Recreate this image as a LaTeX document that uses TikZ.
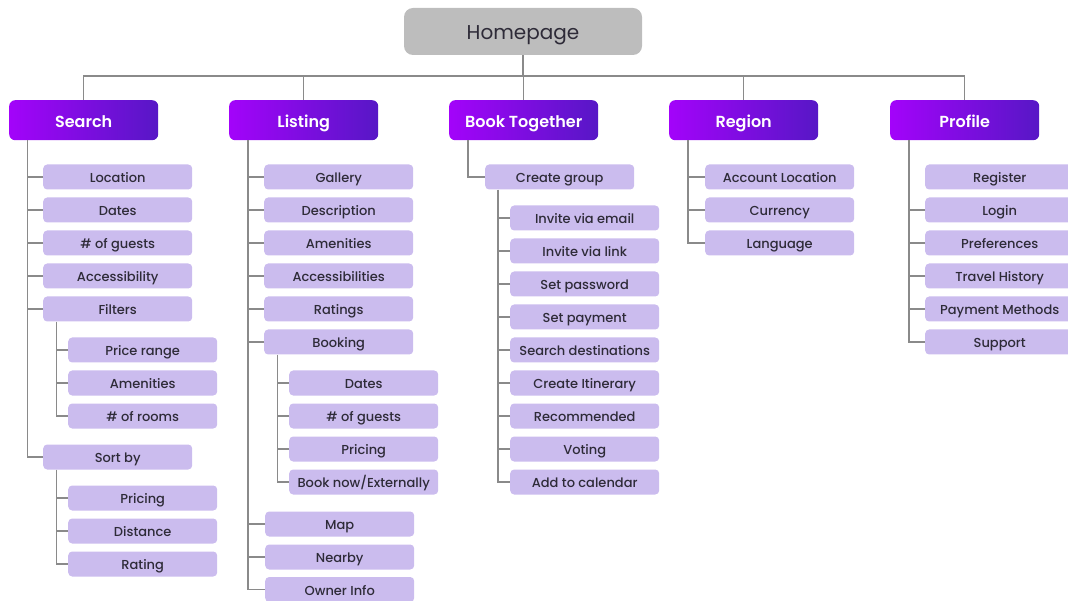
\documentclass[tikz,border=0pt]{standalone}
\usepackage{fontspec}
\setmainfont{Poppins}
\IfFontExistsTF{Poppins Medium}{\newfontfamily\pmed{Poppins Medium}}{\newfontfamily\pmed{Poppins}}
\IfFontExistsTF{Poppins SemiBold}{\newfontfamily\psemi{Poppins SemiBold}}{\newfontfamily\psemi{Poppins}[UprightFont=*-Bold]}
\definecolor{leafc}{HTML}{CBBCEE}
\definecolor{hl}{HTML}{A303FA}
\definecolor{hr}{HTML}{5717C6}
\definecolor{linec}{HTML}{8A8A8A}
\definecolor{txt}{HTML}{2E2B38}
\definecolor{homec}{HTML}{BDBDBD}
\begin{document}
\begin{tikzpicture}[x=1pt,y=-1pt,
  leaf/.style={fill=leafc, rounded corners=4pt, minimum width=149pt, minimum height=25pt, inner sep=0pt, text height=11pt, text depth=0pt, font=\pmed\fontsize{13}{13}\selectfont, text=txt, anchor=west},
  head/.style={left color=hl, right color=hr, rounded corners=6pt, minimum width=149pt, minimum height=40pt, inner sep=0pt, text height=14pt, text depth=0pt, font=\psemi\fontsize{16}{16}\selectfont, text=white, anchor=north west},
  homebox/.style={fill=homec, rounded corners=9pt, minimum width=238pt, minimum height=47pt, inner sep=0pt, text height=18pt, text depth=2pt, font=\fontsize{20}{20}\selectfont, text=txt},
  conn/.style={draw=linec, line width=1.3pt}]
\useasboundingbox (0,0) rectangle (1068,601);
\clip (0,0) rectangle (1068,601);

% homepage and headers
\node[homebox] (home) at (523,31.5) {Homepage};
\node[head] (search) at (9,100) {Search};
\node[head] (listing) at (229,100) {Listing};
\node[head] (book) at (449,100) {Book Together};
\node[head] (region) at (669,100) {Region};
\node[head] (profile) at (890,100) {Profile};

\coordinate (bus) at (523,76);
\draw[conn] (home.south) -- (bus);
\draw[conn] (search.north) -- (search.north |- bus) -- (profile.north |- bus) -- (profile.north);
\foreach \h in {listing,book,region} \draw[conn] (\h.north) -- (\h.north |- bus);

% Search
\node[leaf] (s1) at (43,177) {Location};
\node[leaf] (s2) at (43,210) {Dates};
\node[leaf] (s3) at (43,243) {\# of guests};
\node[leaf] (s4) at (43,276) {Accessibility};
\node[leaf] (s5) at (43,309) {Filters};
\node[leaf] (f1) at (68,350) {Price range};
\node[leaf] (f2) at (68,383) {Amenities};
\node[leaf] (f3) at (68,416) {\# of rooms};
\node[leaf] (s6) at (43,457) {Sort by};
\node[leaf] (o1) at (68,498) {Pricing};
\node[leaf] (o2) at (68,531) {Distance};
\node[leaf] (o3) at (68,564) {Rating};

\draw[conn] ([xshift=18.5pt]search.south west) coordinate (sv) |- (s6.west);
\foreach \n in {s1,s2,s3,s4,s5} \draw[conn] (\n.west) -- (\n.west -| sv);
\draw[conn] ([xshift=13.5pt]s5.south west) coordinate (fv) |- (f3.west);
\foreach \n in {f1,f2} \draw[conn] (\n.west) -- (\n.west -| fv);
\draw[conn] ([xshift=13.5pt]s6.south west) coordinate (ov) |- (o3.west);
\foreach \n in {o1,o2} \draw[conn] (\n.west) -- (\n.west -| ov);

% Listing
\node[leaf] (l1) at (264,177) {Gallery};
\node[leaf] (l2) at (264,210) {Description};
\node[leaf] (l3) at (264,243) {Amenities};
\node[leaf] (l4) at (264,276) {Accessibilities};
\node[leaf] (l5) at (264,309) {Ratings};
\node[leaf] (l6) at (264,342) {Booking};
\node[leaf] (b1) at (289,383) {Dates};
\node[leaf] (b2) at (289,416) {\# of guests};
\node[leaf] (b3) at (289,449) {Pricing};
\node[leaf] (b4) at (289,482) {Book now/Externally};
\node[leaf] (l7) at (265,524) {Map};
\node[leaf] (l8) at (265,557) {Nearby};
\node[leaf] (l9) at (265,589.5) {Owner Info};

\draw[conn] ([xshift=19pt]listing.south west) coordinate (lv) |- (l9.west);
\foreach \n in {l1,l2,l3,l4,l5,l6,l7,l8} \draw[conn] (\n.west) -- (\n.west -| lv);
\draw[conn] ([xshift=13.5pt]l6.south west) coordinate (bv) |- (b4.west);
\foreach \n in {b1,b2,b3} \draw[conn] (\n.west) -- (\n.west -| bv);

% Book Together
\node[leaf] (cg) at (485,177) {Create group};
\node[leaf] (g1) at (510,218) {Invite via email};
\node[leaf] (g2) at (510,251) {Invite via link};
\node[leaf] (g3) at (510,284) {Set password};
\node[leaf] (g4) at (510,317) {Set payment};
\node[leaf] (g5) at (510,350) {Search destinations};
\node[leaf] (g6) at (510,383) {Create Itinerary};
\node[leaf] (g7) at (510,416) {Recommended};
\node[leaf] (g8) at (510,449) {Voting};
\node[leaf] (g9) at (510,482) {Add to calendar};

\draw[conn] ([xshift=19pt]book.south west) |- (cg.west);
\draw[conn] ([xshift=13pt]cg.south west) coordinate (gv) |- (g9.west);
\foreach \n in {g1,g2,g3,g4,g5,g6,g7,g8} \draw[conn] (\n.west) -- (\n.west -| gv);

% Region
\node[leaf] (r1) at (705,177) {Account Location};
\node[leaf] (r2) at (705,210) {Currency};
\node[leaf] (r3) at (705,243) {Language};
\draw[conn] ([xshift=19pt]region.south west) coordinate (rv) |- (r3.west);
\foreach \n in {r1,r2} \draw[conn] (\n.west) -- (\n.west -| rv);

% Profile
\node[leaf] (p1) at (925,177) {Register};
\node[leaf] (p2) at (925,210) {Login};
\node[leaf] (p3) at (925,243) {Preferences};
\node[leaf] (p4) at (925,276) {Travel History};
\node[leaf] (p5) at (925,309) {Payment Methods};
\node[leaf] (p6) at (925,342) {Support};
\draw[conn] ([xshift=19pt]profile.south west) coordinate (pv) |- (p6.west);
\foreach \n in {p2,p3,p4,p5} \draw[conn] (\n.west) -- (\n.west -| pv);
\end{tikzpicture}
\end{document}
